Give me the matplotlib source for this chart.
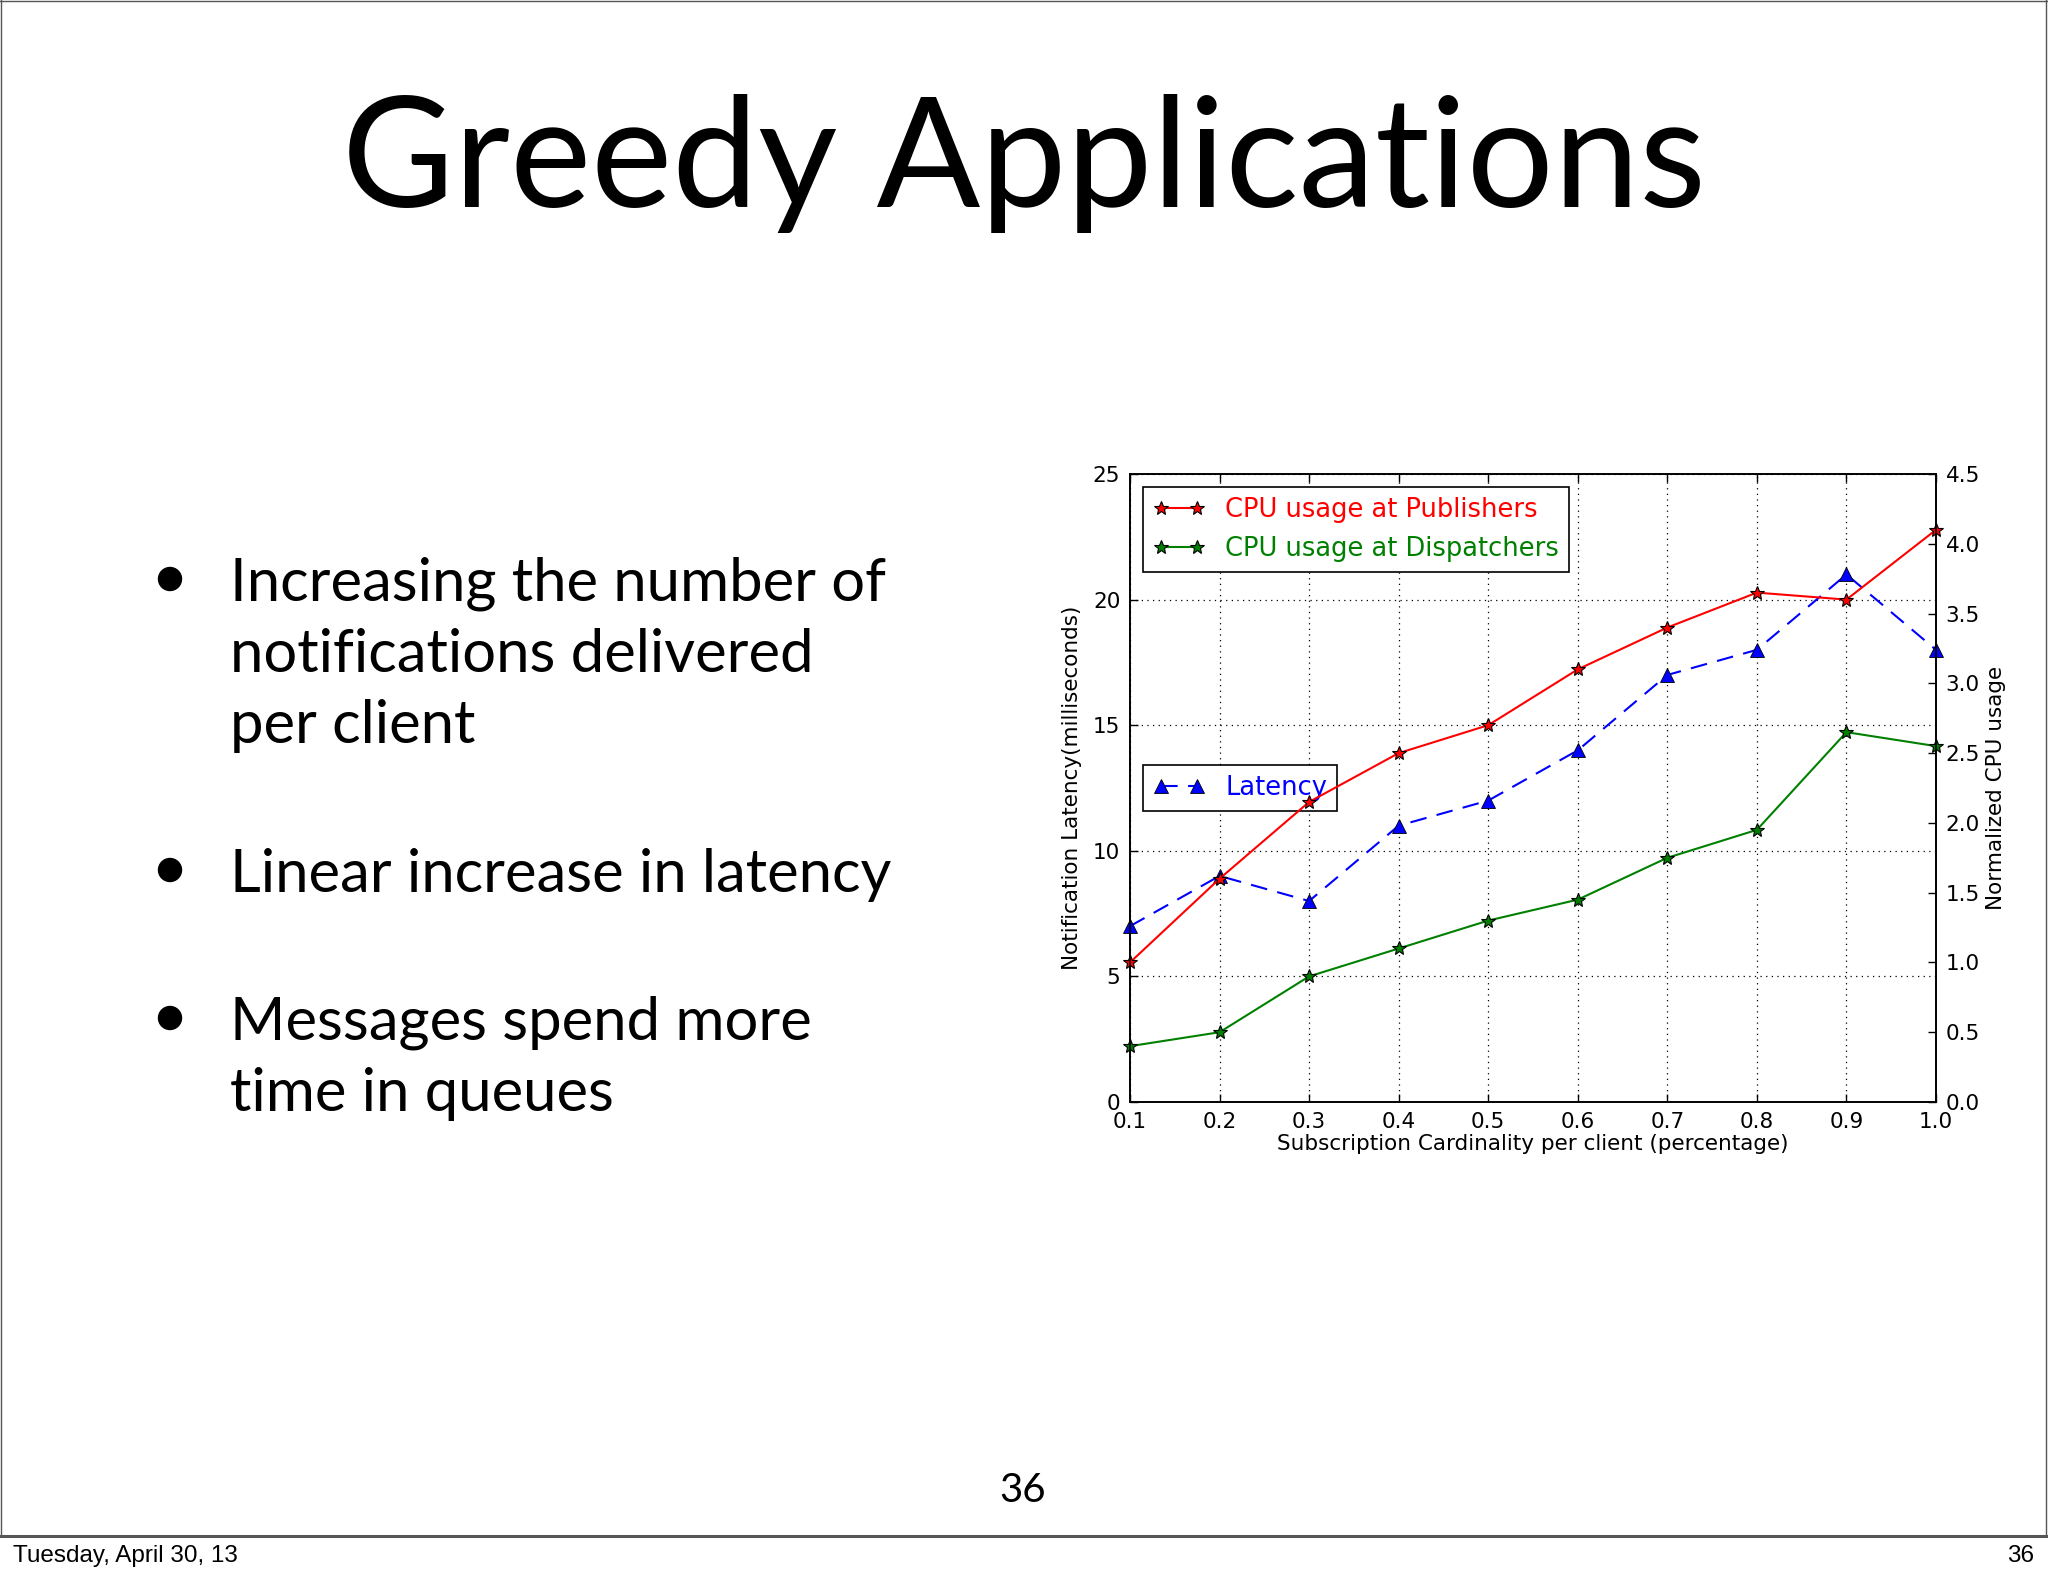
import matplotlib
matplotlib.use('Agg')
import matplotlib.pyplot as plt
from matplotlib.lines import Line2D
from matplotlib.patches import Ellipse

# ------------------------------------------------------------
# Data
# ------------------------------------------------------------
cardinality = [0.1, 0.2, 0.3, 0.4, 0.5, 0.6, 0.7, 0.8, 0.9, 1.0]
latency_ms = [7.0, 9.0, 8.0, 11.0, 12.0, 14.0, 17.0, 18.0, 21.0, 18.0]
cpu_publishers = [1.0, 1.6, 2.15, 2.5, 2.7, 3.1, 3.4, 3.65, 3.6, 4.1]
cpu_dispatchers = [0.4, 0.5, 0.9, 1.1, 1.3, 1.45, 1.75, 1.95, 2.65, 2.55]

left_ticks = [0, 5, 10, 15, 20, 25]
right_ticks = [0.0, 0.5, 1.0, 1.5, 2.0, 2.5, 3.0, 3.5, 4.0, 4.5]

title = 'Greedy Applications'
bullets = [
    ['Increasing the number of', 'notifications delivered', 'per client'],
    ['Linear increase in latency'],
    ['Messages spend more', 'time in queues'],
]
page_no = '36'
footer_date = 'Tuesday, April 30, 13'

W, H = 2048, 1576
SLIDE_FONT = ['Lato', 'DejaVu Sans']
CHART_FONT = 'DejaVu Sans'


def fx(px):
    return px / W


def fy(py):
    return 1 - py / H


fig = plt.figure(figsize=(W / 100, H / 100), dpi=100)
fig.patch.set_facecolor('white')

# ---- slide frame ----
fig.add_artist(Line2D([fx(1), fx(1)], [fy(0), fy(1536)], color='#555555', lw=1))
fig.add_artist(Line2D([fx(2046), fx(2046)], [fy(0), fy(1536)], color='#555555', lw=1))
fig.add_artist(Line2D([fx(0), fx(2048)], [fy(1), fy(1)], color='#555555', lw=1))
fig.add_artist(Line2D([fx(0), fx(2048)], [fy(1536), fy(1536)], color='#555555', lw=2.2))

# ---- title ----
fig.text(fx(1024), fy(207), title, ha='center', va='baseline',
         fontsize=110.5, family=SLIDE_FONT, color='black')

# ---- bullets ----
line_gap = 71
block_tops = [601, 892, 1040]
for lines, base in zip(bullets, block_tops):
    fig.add_artist(Ellipse((fx(170), fy(base - 22)), 23 / W, 23 / H,
                           transform=fig.transFigure, color='black'))
    for i, line in enumerate(lines):
        fig.text(fx(230), fy(base + i * line_gap), line, ha='left', va='baseline',
                 fontsize=43, family=SLIDE_FONT, color='black')

# ---- page number and footer ----
fig.text(fx(1023), fy(1502), page_no, ha='center', va='baseline',
         fontsize=29, family=SLIDE_FONT, color='black')
fig.text(fx(13), fy(1562), footer_date, ha='left', va='baseline',
         fontsize=17.5, family='Liberation Sans', color='black')
fig.text(fx(2034), fy(1562), page_no, ha='right', va='baseline',
         fontsize=17.5, family='Liberation Sans', color='black')

# ============================================================
# Chart
# ============================================================
ax1 = fig.add_axes([fx(1130), fy(1102), (1936 - 1130) / W, (1102 - 474) / H])
ax2 = ax1.twinx()

ax1.plot(cardinality, latency_ms, color='b', lw=1.5, ls='--',
         dashes=(8, 5), marker='^', ms=10, mfc='b', mec='black', mew=0.6,
         label='Latency', clip_on=False)
ax2.plot(cardinality, cpu_publishers, color='r', lw=1.5, marker='*', ms=10.5,
         mfc='r', mec='black', mew=0.8, label='CPU usage at Publishers',
         clip_on=False)
ax2.plot(cardinality, cpu_dispatchers, color='g', lw=1.5, marker='*', ms=10.5,
         mfc='g', mec='black', mew=0.8, label='CPU usage at Dispatchers',
         clip_on=False)

ax1.set_xlim(0.1, 1.0)
ax1.set_ylim(0, 25)
ax2.set_ylim(0, 4.5)
ax1.set_xticks(cardinality)
ax1.set_xticklabels([f'{v:.1f}' for v in cardinality])
ax1.set_yticks(left_ticks)
ax2.set_yticks(right_ticks)
ax2.set_yticklabels([f'{v:.1f}' for v in right_ticks])

tick_kw = dict(direction='in', length=6, width=1, labelsize=15.5, pad=7,
               colors='black')
ax1.tick_params(axis='x', top=True, **tick_kw)
ax1.tick_params(axis='y', **tick_kw)
ax2.tick_params(axis='y', **tick_kw)

for ax in (ax1, ax2):
    for sp in ax.spines.values():
        sp.set_color('black')
        sp.set_linewidth(1.2)
    for lab in ax.get_xticklabels() + ax.get_yticklabels():
        lab.set_family(CHART_FONT)

ax1.grid(True, color='black', ls=(0, (1, 3.5)), lw=0.9)

ax1.set_xlabel('Subscription Cardinality per client (percentage)',
               fontsize=15.5, family=CHART_FONT, labelpad=2)
ax1.set_ylabel('Notification Latency(milliseconds)', fontsize=15.5,
               family=CHART_FONT, labelpad=8)
ax2.set_ylabel('Normalized CPU usage', fontsize=15.5, family=CHART_FONT,
               labelpad=4)

leg_kw = dict(numpoints=2, fancybox=False, framealpha=1, edgecolor='black',
              prop={'family': CHART_FONT, 'size': 18.5})
leg1 = ax1.legend(loc='center left', **leg_kw)
leg2 = ax2.legend(loc='upper left', **leg_kw)
for leg in (leg1, leg2):
    leg.get_frame().set_linewidth(1.2)
    for txt, h in zip(leg.get_texts(), leg.legend_handles):
        txt.set_color(h.get_color())

fig.savefig('out.png', dpi=100, facecolor='white')
